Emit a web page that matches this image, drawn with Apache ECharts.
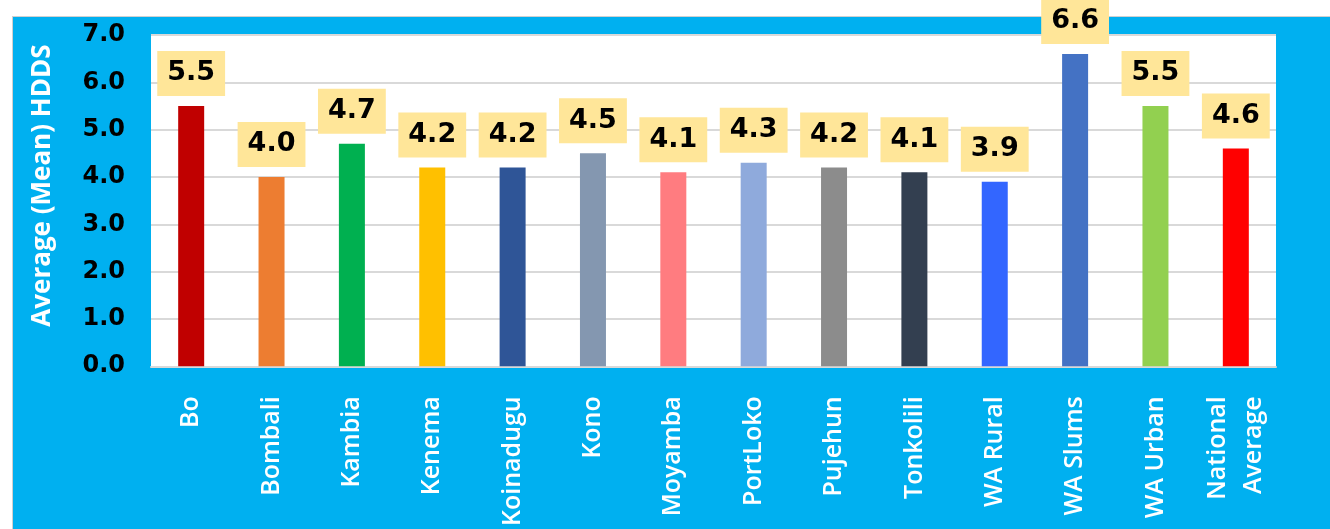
<!DOCTYPE html>
<html>
<head>
<meta charset="utf-8">
<script src="https://cdn.jsdelivr.net/npm/echarts@6/dist/echarts.min.js"></script>
<style>
  html, body { margin: 0; padding: 0; background: #ffffff; width: 100vw; height: 100vh; overflow: hidden; }
  #panel { position: absolute; left: 12px; top: calc(100vh * 16 / 529); right: 0; bottom: 0; background: #00B0F0;
           border-left: 1px solid #d0d0d0; border-top: 1px solid #d0d0d0; box-sizing: border-box; }
  #chart { position: absolute; left: 0; top: 0; width: 100vw; height: 100vh; }
</style>
</head>
<body>
<div id="panel"></div>
<div id="chart"></div>
<script>
// Districts of Sierra Leone and their mean household dietary diversity score
const categories = ['Bo', 'Bombali', 'Kambia', 'Kenema', 'Koinadugu', 'Kono', 'Moyamba',
  'PortLoko', 'Pujehun', 'Tonkolili', 'WA Rural', 'WA Slums', 'WA Urban', 'National\nAverage'];
const meanHDDS = [5.5, 4.0, 4.7, 4.2, 4.2, 4.5, 4.1, 4.3, 4.2, 4.1, 3.9, 6.6, 5.5, 4.6];
const barColors = ['#C00000', '#ED7D31', '#00B050', '#FFC000', '#2F5597', '#8497B0', '#FF7C80',
  '#8FAADC', '#8C8C8C', '#333F50', '#3366FF', '#4472C4', '#92D050', '#FF0000'];
const yAxisTitle = 'Average (Mean) HDDS';

const chart = echarts.init(document.getElementById('chart'), null, { renderer: 'canvas' });

chart.setOption({
  backgroundColor: 'transparent',
  animation: false,
  grid: {
    left: 151, right: 54,
    top: (35 / 529 * 100) + '%',
    bottom: (154 / 529 * 100) + '%',
    show: true, backgroundColor: '#ffffff', borderWidth: 0
  },
  xAxis: {
    type: 'category',
    data: categories,
    axisTick: { show: false },
    axisLine: { lineStyle: { color: '#d9d9d9', width: 2 } },
    axisLabel: {
      interval: 0, rotate: 90, margin: 30,
      color: '#ffffff', fontFamily: 'Open Sans', fontWeight: 600, fontSize: 25, lineHeight: 36
    }
  },
  yAxis: {
    type: 'value',
    min: 0, max: 7, interval: 1,
    name: yAxisTitle,
    nameLocation: 'middle',
    nameRotate: 90,
    nameGap: 95,
    nameTextStyle: {
      color: '#ffffff', fontFamily: 'Open Sans', fontWeight: 'bold', fontSize: 26,
      padding: [0, 0, 0, 30]
    },
    axisLine: { show: false },
    axisTick: { show: false },
    splitLine: { lineStyle: { color: '#d9d9d9', width: 2 } },
    axisLabel: {
      margin: 26,
      color: '#000000', fontFamily: 'DejaVu Sans', fontWeight: 'bold', fontSize: 24,
      formatter: v => v.toFixed(1)
    }
  },
  series: [{
    type: 'bar',
    barWidth: 26,
    data: meanHDDS.map((v, i) => ({ value: v, itemStyle: { color: barColors[i] } })),
    label: {
      show: true,
      position: 'top',
      distance: 10,
      formatter: p => p.value.toFixed(1),
      backgroundColor: '#FFE699',
      padding: [7, 10, 7, 10],
      lineHeight: 31,
      color: '#000000',
      fontFamily: 'DejaVu Sans',
      fontWeight: 'bold',
      fontSize: 27
    }
  }]
});
window.addEventListener('resize', () => chart.resize());
</script>
</body>
</html>
